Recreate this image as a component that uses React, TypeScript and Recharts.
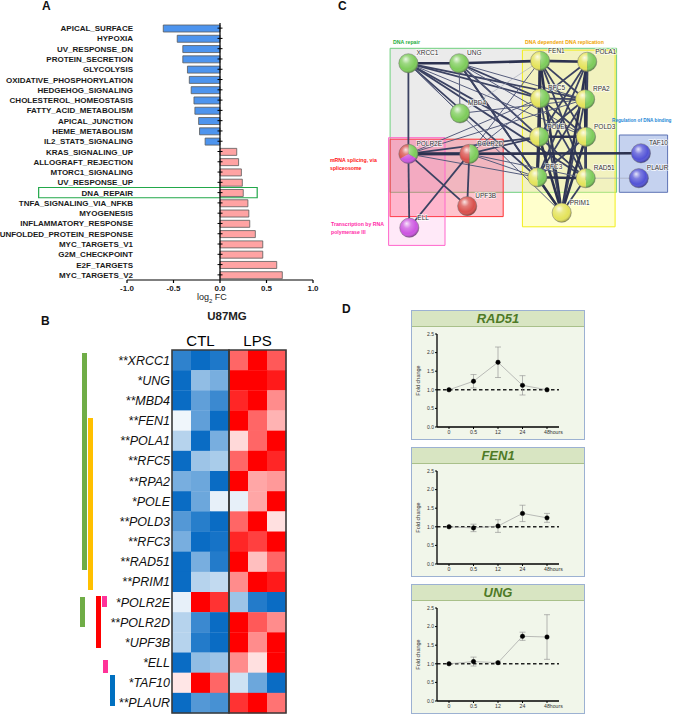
import React from "react";
import {
  Bar,
  Cell,
  ComposedChart,
  ErrorBar,
  Line,
  LineChart,
  ReferenceArea,
  ReferenceLine,
  Scatter,
  ScatterChart,
  XAxis,
  YAxis,
} from "recharts";

const FONT = "'Liberation Sans', Arial, sans-serif";

// ---------- A: hallmark gene sets, log2 FC
const pathways = [
  "APICAL_SURFACE",
  "HYPOXIA",
  "UV_RESPONSE_DN",
  "PROTEIN_SECRETION",
  "GLYCOLYSIS",
  "OXIDATIVE_PHOSPHORYLATION",
  "HEDGEHOG_SIGNALING",
  "CHOLESTEROL_HOMEOSTASIS",
  "FATTY_ACID_METABOLISM",
  "APICAL_JUNCTION",
  "HEME_METABOLISM",
  "IL2_STAT5_SIGNALING",
  "KRAS_SIGNALING_UP",
  "ALLOGRAFT_REJECTION",
  "MTORC1_SIGNALING",
  "UV_RESPONSE_UP",
  "DNA_REPAIR",
  "TNFA_SIGNALING_VIA_NFKB",
  "MYOGENESIS",
  "INFLAMMATORY_RESPONSE",
  "UNFOLDED_PROTEIN_RESPONSE",
  "MYC_TARGETS_V1",
  "G2M_CHECKPOINT",
  "E2F_TARGETS",
  "MYC_TARGETS_V2",
];
const log2fc = [
  -0.61, -0.46, -0.4, -0.4, -0.35, -0.33, -0.31, -0.28, -0.27, -0.23, -0.22, -0.16,
  0.18, 0.2, 0.23, 0.24, 0.25, 0.3, 0.31, 0.32, 0.38, 0.46, 0.46, 0.61, 0.67,
];
const fcTicks = [-1, -0.5, 0, 0.5, 1];
const highlighted = "DNA_REPAIR";

// ---------- B: heatmap U87MG
const genes = [
  "XRCC1", "UNG", "MBD4", "FEN1", "POLA1", "RFC5", "RPA2", "POLE", "POLD3",
  "RFC3", "RAD51", "PRIM1", "POLR2E", "POLR2D", "UPF3B", "ELL", "TAF10", "PLAUR",
];
const stars = [
  "**", "*", "**", "**", "**", "**", "**", "*", "**",
  "**", "**", "**", "*", "**", "*", "*", "*", "**",
];
const conditions = ["CTL", "LPS"];
// CTL1 CTL2 CTL3 LPS1 LPS2 LPS3 (row z-scores)
const zScores = [
  [-0.85, -1, -0.92, 0.6, 1, 0.65],
  [-1, -0.45, -0.55, 1, 1, 0.9],
  [-1, -0.65, -0.8, 0.85, 1, 0.45],
  [-0.06, -0.65, -1, 1, 0.6, 0.3],
  [-0.3, -1, -0.55, 0.15, 0.6, 1],
  [-1, -0.4, -0.35, 0.6, 1, 0.85],
  [-0.55, -0.6, -1, 1, 0.35, 0.4],
  [-1, -0.6, -0.1, -0.1, 0.35, 1],
  [-0.7, -0.88, -1, 0.6, 1, 0.12],
  [-0.55, -1, -0.95, 0.85, 0.75, 1],
  [-1, -0.55, -0.9, 1, 0.25, 0.6],
  [-1, -0.3, -0.25, 0.45, 1, 0.9],
  [-0.1, 1, 0.8, -0.4, -0.9, -1],
  [-0.3, -0.8, -1, 1, 0.65, 0.45],
  [-0.3, -0.9, -1, 1, 0.45, 1],
  [-1, -0.45, -0.4, 0.45, 0.12, 1],
  [0.1, 1, 0.6, -0.2, -0.6, -1],
  [-1, -0.7, -0.75, 0.8, 1, 0.55],
];

// ---------- C: STRING network
const termNames = {
  repair: "DNA repair",
  replication: "DNA dependent DNA replication",
  binding: "Regulation of DNA binding",
  splicing: "mRNA splicing, via spliceosome",
  transcription: "Transcription by RNA polymerase III",
};
const nodes = [
  { id: "XRCC1", x: 32.8, y: 11.1, terms: ["repair"] },
  { id: "UNG", x: 49.7, y: 11.1, terms: ["repair"] },
  { id: "FEN1", x: 76.7, y: 10.3, terms: ["repair", "replication"] },
  { id: "POLA1", x: 92.4, y: 10.6, terms: ["repair", "replication"] },
  { id: "RFC5", x: 76.7, y: 22.8, terms: ["repair", "replication"] },
  { id: "RPA2", x: 91.7, y: 23.1, terms: ["repair", "replication"] },
  { id: "MBD4", x: 50, y: 27.8, terms: ["repair"] },
  { id: "POLE", x: 76.4, y: 35.6, terms: ["repair", "replication"] },
  { id: "POLD3", x: 92, y: 35.6, terms: ["repair", "replication"] },
  { id: "POLR2E", x: 32.8, y: 41.3, terms: ["repair", "transcription", "splicing"] },
  { id: "POLR2D", x: 53.1, y: 41.3, terms: ["repair", "splicing"] },
  { id: "TAF10", x: 110.3, y: 41.1, terms: ["binding"] },
  { id: "RFC3", x: 75.8, y: 49.1, terms: ["repair", "replication"] },
  { id: "RAD51", x: 91.9, y: 49.4, terms: ["repair", "replication"] },
  { id: "PLAUR", x: 109.6, y: 49.4, terms: ["binding"] },
  { id: "UPF3B", x: 52.4, y: 58.7, terms: ["splicing"] },
  { id: "PRIM1", x: 83.9, y: 60.9, terms: ["replication"] },
  { id: "ELL", x: 33.1, y: 65.9, terms: ["transcription"] },
];
// [from, to, confidence 0..3]
const edges: [string, string, number][] = [
  ["XRCC1", "UNG", 3], ["XRCC1", "POLR2E", 2], ["XRCC1", "RFC5", 2], ["XRCC1", "RPA2", 2],
  ["XRCC1", "POLE", 2], ["XRCC1", "POLD3", 1], ["XRCC1", "RFC3", 2], ["XRCC1", "RAD51", 2],
  ["XRCC1", "PRIM1", 1], ["XRCC1", "MBD4", 1],
  ["UNG", "FEN1", 3], ["UNG", "MBD4", 1], ["UNG", "RFC5", 2], ["UNG", "RPA2", 1],
  ["UNG", "POLE", 2], ["UNG", "POLD3", 1], ["UNG", "RFC3", 2], ["UNG", "RAD51", 1], ["UNG", "PRIM1", 2],
  ["MBD4", "FEN1", 0], ["MBD4", "RPA2", 1],
  ["FEN1", "POLA1", 3], ["FEN1", "RFC5", 3], ["FEN1", "RPA2", 2], ["FEN1", "POLE", 3],
  ["FEN1", "POLD3", 2], ["FEN1", "RFC3", 3], ["FEN1", "RAD51", 2], ["FEN1", "PRIM1", 3],
  ["POLA1", "RFC5", 2], ["POLA1", "RPA2", 3], ["POLA1", "POLE", 2], ["POLA1", "POLD3", 3],
  ["POLA1", "RFC3", 2], ["POLA1", "RAD51", 2], ["POLA1", "PRIM1", 3],
  ["RFC5", "RPA2", 2], ["RFC5", "POLE", 3], ["RFC5", "POLD3", 2], ["RFC5", "RFC3", 3],
  ["RFC5", "RAD51", 2], ["RFC5", "PRIM1", 2], ["RFC5", "POLR2E", 1],
  ["RPA2", "POLE", 2], ["RPA2", "POLD3", 3], ["RPA2", "RFC3", 2], ["RPA2", "RAD51", 3], ["RPA2", "PRIM1", 2],
  ["POLE", "POLD3", 3], ["POLE", "RFC3", 3], ["POLE", "RAD51", 2], ["POLE", "PRIM1", 3],
  ["POLE", "POLR2E", 2], ["POLE", "POLR2D", 2],
  ["POLD3", "RFC3", 2], ["POLD3", "RAD51", 2], ["POLD3", "PRIM1", 3],
  ["RFC3", "RAD51", 3], ["RFC3", "PRIM1", 3], ["RFC3", "POLR2D", 1], ["RFC3", "POLR2E", 1],
  ["RAD51", "PRIM1", 2], ["RAD51", "PLAUR", 0],
  ["POLR2E", "POLR2D", 3], ["POLR2E", "TAF10", 3], ["POLR2E", "ELL", 2], ["POLR2E", "UPF3B", 2],
  ["POLR2E", "RPA2", 1],
  ["POLR2D", "UPF3B", 2], ["POLR2D", "ELL", 2], ["POLR2D", "FEN1", 1], ["POLR2D", "RFC5", 1],
  ["POLR2D", "RAD51", 1],
];
// term boxes in layout units
const termBoxes = [
  { term: "repair", x1: 26.7, x2: 102.2, y1: 6.1, y2: 54.1 },
  { term: "replication", x1: 70.8, x2: 101.7, y1: 6.7, y2: 65.6 },
  { term: "splicing", x1: 26.7, x2: 64.4, y1: 36.4, y2: 62.2 },
  { term: "transcription", x1: 26.2, x2: 45, y1: 35.9, y2: 71.8 },
  { term: "binding", x1: 103.1, x2: 119.2, y1: 35, y2: 54.1 },
];

// ---------- D: qPCR time course
const hours = ["0", "0.5", "12", "24", "48"];
const rad51Fc = [1.0, 1.23, 1.74, 1.12, 1.0];
const rad51Sd = [0, 0.18, 0.41, 0.26, 0];
const fen1Fc = [1.0, 0.97, 1.02, 1.36, 1.24];
const fen1Sd = [0, 0.1, 0.17, 0.22, 0.12];
const ungFc = [1.0, 1.06, 1.03, 1.74, 1.72];
const ungSd = [0, 0.12, 0.02, 0.11, 0.6];
const foldTicks = [0, 0.5, 1, 1.5, 2, 2.5];

// ---------- styles
const termStyle: Record<string, { fill: string; op: number; stroke: string; node: string; text: string }> = {
  repair: { fill: "#e9e9e9", op: 0.9, stroke: "#6fd07e", node: "#7dcc5a", text: "#1fae3c" },
  replication: { fill: "#ffff7a", op: 0.38, stroke: "#f2ee1a", node: "#e4e35a", text: "#f0a400" },
  splicing: { fill: "#ff3d5a", op: 0.3, stroke: "#ff3333", node: "#d9504c", text: "#ff1414" },
  transcription: { fill: "#ff6ad0", op: 0.15, stroke: "#ff66cc", node: "#cc55e0", text: "#ff2aa8" },
  binding: { fill: "#7f9bdb", op: 0.45, stroke: "#5d72b4", node: "#5252d6", text: "#2486d6" },
};
const edgeStyle = [
  { w: 0.6, c: "#a0a4b4" },
  { w: 1.0, c: "#555c7c" },
  { w: 1.8, c: "#3b4262" },
  { w: 2.6, c: "#2c3250" },
];

const hallmarkData = pathways.map((name, i) => ({ name, fc: log2fc[i], zero: 0 }));

function PathwayTick(props: any) {
  const { x, y, payload } = props;
  return (
    <text x={x + 6} y={y} dy={3} textAnchor="end" fontSize={8} fontWeight={700} fill="#1a1a1a" fontFamily={FONT}>
      {payload.value}
    </text>
  );
}

function HallmarkChart() {
  return (
    <div style={{ position: "absolute", left: 0, top: 0 }}>
      <ComposedChart
        layout="vertical"
        width={330}
        height={305}
        data={hallmarkData}
        margin={{ top: 23, right: 17, bottom: 5, left: 0 }}
      >
        <XAxis
          type="number"
          domain={[-1, 1]}
          ticks={fcTicks}
          tickFormatter={(v: number) => v.toFixed(1)}
          height={20}
          tickSize={3}
          tickMargin={2}
          axisLine={{ stroke: "#000", strokeWidth: 1.2 }}
          tickLine={{ stroke: "#000", strokeWidth: 1.2 }}
          tick={{ fontSize: 8, fontWeight: 700, fill: "#1a1a1a", fontFamily: FONT }}
        />
        <YAxis
          type="category"
          dataKey="name"
          width={127}
          interval={0}
          axisLine={false}
          tickLine={false}
          tickSize={0}
          tickMargin={0}
          tick={<PathwayTick />}
        />
        <ReferenceArea
          x1={-1.95}
          x2={0.4}
          y1={highlighted}
          y2={highlighted}
          ifOverflow="visible"
          fill="none"
          fillOpacity={0}
          stroke="#22a84a"
          strokeWidth={1.2}
        />
        <ReferenceLine x={0} stroke="#000" strokeWidth={1.2} />
        <Bar dataKey="fc" barSize={7} stroke="#5a5a5a" strokeWidth={0.8} isAnimationActive={false}>
          {hallmarkData.map((d) => (
            <Cell key={d.name} fill={d.fc < 0 ? "#4d94ee" : "#ffa3a3"} />
          ))}
        </Bar>
        <Scatter
          dataKey="zero"
          isAnimationActive={false}
          shape={(p: any) => (
            <line x1={p.cx - 2.5} x2={p.cx + 2.5} y1={p.cy} y2={p.cy} stroke="#000" strokeWidth={1} />
          )}
        />
      </ComposedChart>
      <div
        style={{
          position: "absolute",
          left: 197,
          top: 292,
          fontSize: 9,
          color: "#222",
          fontFamily: FONT,
          whiteSpace: "nowrap",
        }}
      >
        log<sub style={{ fontSize: 6 }}>2</sub> FC
      </div>
    </div>
  );
}

// ---------- B
const HM = { w: 300, h: 416, top: 30, right: 14, bottom: 3, left: 172, axisTop: 20 };
const plotW = HM.w - HM.left - HM.right;
const plotH = HM.h - HM.top - HM.axisTop - HM.bottom;
const cellW = plotW / 6;
const cellH = plotH / genes.length;

function heat(v: number) {
  const t = Math.min(1, Math.abs(v));
  if (v < 0) {
    return `rgb(${Math.round(255 - t * 245)},${Math.round(255 - t * 147)},${Math.round(255 - t * 59)})`;
  }
  return `rgb(255,${Math.round(255 - t * 255)},${Math.round(255 - t * 255)})`;
}

const heatCells = zScores.flatMap((row, r) => row.map((v, c) => ({ col: c, row: r, v })));
const rowTicks = genes.map((_, i) => i);

function GeneTick(props: any) {
  const { x, y, payload } = props;
  const i = payload.value as number;
  return (
    <text x={x} y={y} dy={4.5} textAnchor="end" fontSize={12.5} fontStyle="italic" fill="#111" fontFamily={FONT}>
      {stars[i] + genes[i]}
    </text>
  );
}

const rowGroups = [
  { from: 0, to: 10, left: 82, color: "#70ad47", inset: [3, 2] },
  { from: 3, to: 11, left: 88, color: "#ffc000", inset: [7, 2] },
  { from: 12, to: 13, left: 80, color: "#70ad47", inset: [5, 5] },
  { from: 12, to: 14, left: 96, color: "#ff0000", inset: [4, 5] },
  { from: 12, to: 12, left: 102, color: "#ff3399", inset: [4, 5] },
  { from: 15, to: 15, left: 103, color: "#ff3399", inset: [7, 0] },
  { from: 16, to: 17, left: 110, color: "#0070c0", inset: [2, 7] },
];

function Heatmap() {
  const plotTop = 300 + HM.top + HM.axisTop;
  return (
    <div style={{ position: "absolute", left: 0, top: 300 }}>
      <ScatterChart
        width={HM.w}
        height={HM.h}
        margin={{ top: HM.top, right: HM.right, bottom: HM.bottom, left: 0 }}
      >
        <XAxis
          xAxisId={0}
          orientation="top"
          type="number"
          dataKey="col"
          domain={[-0.5, 5.5]}
          ticks={[1, 4]}
          tickFormatter={(v: number) => conditions[Math.floor(v / 3)]}
          height={HM.axisTop}
          axisLine={false}
          tickLine={false}
          tickSize={0}
          tickMargin={4}
          tick={{ fontSize: 15, fill: "#000", fontFamily: FONT }}
        />
        <YAxis
          type="number"
          dataKey="row"
          domain={[-0.5, genes.length - 0.5]}
          reversed
          ticks={rowTicks}
          interval={0}
          width={HM.left}
          axisLine={false}
          tickLine={false}
          tickSize={0}
          tickMargin={2}
          tick={<GeneTick />}
        />
        <Scatter
          data={heatCells}
          isAnimationActive={false}
          shape={(p: any) => (
            <rect
              x={p.cx - cellW / 2}
              y={p.cy - cellH / 2}
              width={cellW + 0.3}
              height={cellH + 0.3}
              fill={heat(p.payload.v)}
            />
          )}
        />
        <ReferenceArea
          x1={-0.5}
          x2={2.5}
          y1={-0.5}
          y2={genes.length - 0.5}
          fill="none"
          fillOpacity={0}
          stroke="#3a3a3a"
          strokeWidth={1.6}
          zIndex={900}
        />
        <ReferenceArea
          x1={2.5}
          x2={5.5}
          y1={-0.5}
          y2={genes.length - 0.5}
          fill="none"
          fillOpacity={0}
          stroke="#3a3a3a"
          strokeWidth={1.6}
          zIndex={900}
        />
      </ScatterChart>
      {rowGroups.map((g, i) => (
        <div
          key={i}
          style={{
            position: "absolute",
            left: g.left,
            top: plotTop - 300 + g.from * cellH + g.inset[0],
            width: 5,
            height: (g.to - g.from + 1) * cellH - g.inset[0] - g.inset[1],
            background: g.color,
          }}
        />
      ))}
    </div>
  );
}

// ---------- C
const C_UNIT = 3;
const C_W = 366;
const C_H = 230;

function wedge(cx: number, cy: number, r: number, a0: number, a1: number) {
  const pt = (a: number) => [cx + r * Math.sin((a * Math.PI) / 180), cy - r * Math.cos((a * Math.PI) / 180)];
  const [x0, y0] = pt(a0);
  const [x1, y1] = pt(a1);
  const large = a1 - a0 > 180 ? 1 : 0;
  return `M${cx},${cy} L${x0},${y0} A${r},${r} 0 ${large} 1 ${x1},${y1} Z`;
}

const NODE_R = 9.6;

function NodeShape(props: any) {
  const { cx, cy, payload } = props;
  const cols = (payload.terms as string[]).map((t) => termStyle[t].node);
  const step = 360 / cols.length;
  return (
    <g>
      {cols.length === 1 ? (
        <circle cx={cx} cy={cy} r={NODE_R} fill={cols[0]} />
      ) : (
        cols.map((c, i) => <path key={i} d={wedge(cx, cy, NODE_R, i * step, (i + 1) * step)} fill={c} />)
      )}
      <circle cx={cx} cy={cy} r={NODE_R} fill="url(#sphereShade)" stroke="#707070" strokeWidth={0.5} />
      <text
        x={cx + 8}
        y={cy - 8}
        fontSize={6.5}
        fill="#333"
        fontFamily={FONT}
        stroke="#ffffff"
        strokeOpacity={0.75}
        strokeWidth={1.5}
        paintOrder="stroke"
      >
        {payload.id}
      </text>
    </g>
  );
}

const nodeById: Record<string, { x: number; y: number }> = Object.fromEntries(nodes.map((n) => [n.id, n]));
const edgeSeries = edges.map(([a, b, w]) => ({
  key: `${a}-${b}`,
  w,
  points: [
    { x: nodeById[a].x, y: nodeById[a].y },
    { x: nodeById[b].x, y: nodeById[b].y },
  ],
}));

function Network() {
  return (
    <div style={{ position: "absolute", left: 310, top: 30 }}>
      <ScatterChart width={C_W} height={C_H} margin={{ top: 0, right: 0, bottom: 0, left: 0 }}>
        <defs>
          <radialGradient id="sphereShade" cx="0.42" cy="0.38" r="0.62" fx="0.36" fy="0.28">
            <stop offset="0" stopColor="#ffffff" stopOpacity={0.85} />
            <stop offset="0.35" stopColor="#ffffff" stopOpacity={0.25} />
            <stop offset="0.75" stopColor="#ffffff" stopOpacity={0} />
            <stop offset="1" stopColor="#000000" stopOpacity={0.3} />
          </radialGradient>
        </defs>
        <XAxis type="number" dataKey="x" domain={[0, C_W / C_UNIT]} hide />
        <YAxis type="number" dataKey="y" domain={[0, C_H / C_UNIT]} reversed hide />
        {termBoxes.map((b) => (
          <ReferenceArea
            key={b.term}
            x1={b.x1}
            x2={b.x2}
            y1={b.y1}
            y2={b.y2}
            fill={termStyle[b.term].fill}
            fillOpacity={termStyle[b.term].op}
            stroke={termStyle[b.term].stroke}
            strokeWidth={1}
          />
        ))}
        {edgeSeries.map((e) => (
          <Scatter
            key={e.key}
            data={e.points}
            isAnimationActive={false}
            line={{ stroke: edgeStyle[e.w].c, strokeWidth: edgeStyle[e.w].w }}
            shape={() => <g />}
          />
        ))}
        <Scatter data={nodes} isAnimationActive={false} shape={<NodeShape />} />
      </ScatterChart>
    </div>
  );
}

const captionStyle: React.CSSProperties = {
  position: "absolute",
  fontSize: 5.2,
  fontWeight: 700,
  fontFamily: FONT,
  lineHeight: "7.5px",
  whiteSpace: "nowrap",
};

function NetworkCaptions() {
  return (
    <>
      <div style={{ ...captionStyle, left: 393, top: 39, color: termStyle.repair.text }}>{termNames.repair}</div>
      <div style={{ ...captionStyle, left: 525, top: 39, color: termStyle.replication.text }}>
        {termNames.replication}
      </div>
      <div style={{ ...captionStyle, left: 612, top: 117, fontSize: 4.7, color: termStyle.binding.text }}>
        {termNames.binding}
      </div>
      <div style={{ ...captionStyle, left: 330, top: 157, color: termStyle.splicing.text }}>
        mRNA splicing, via
        <br />
        spliceosome
      </div>
      <div style={{ ...captionStyle, left: 331, top: 221, color: termStyle.transcription.text }}>
        Transcription by RNA
        <br />
        polymerase III
      </div>
    </>
  );
}

// ---------- D
function HourTick(props: any) {
  const { x, y, payload } = props;
  const last = payload.value === hours[hours.length - 1];
  return (
    <text
      x={last ? x - 3 : x}
      y={y + 5}
      textAnchor={last ? "start" : "middle"}
      fontSize={5.2}
      fill="#333"
      fontFamily={FONT}
    >
      {last ? `${payload.value}hours` : payload.value}
    </text>
  );
}

function FoldLabel(props: any) {
  const { viewBox } = props;
  const x = viewBox.x + 8;
  const y = viewBox.y + viewBox.height / 2;
  return (
    <text x={x} y={y} transform={`rotate(-90, ${x}, ${y})`} textAnchor="middle" fontSize={5.5} fill="#333" fontFamily={FONT}>
      Fold change
    </text>
  );
}

function TimeCourse({ title, fc, sd, top }: { title: string; fc: number[]; sd: number[]; top: number }) {
  const data = hours.map((t, i) => ({ t, fc: fc[i], sd: sd[i] }));
  return (
    <div
      style={{
        position: "absolute",
        left: 411,
        top,
        width: 172,
        border: "1px solid #9cb1d2",
        background: "#f1f6ea",
      }}
    >
      <div
        style={{
          height: 15,
          background: "#d8e5c2",
          borderBottom: "1px solid #a9c08a",
          textAlign: "center",
          fontSize: 13,
          lineHeight: "15px",
          fontWeight: 700,
          fontStyle: "italic",
          color: "#4e7a27",
          fontFamily: FONT,
        }}
      >
        {title}
      </div>
      <LineChart width={170} height={112} data={data} margin={{ top: 7, right: 23, bottom: 2, left: 0 }}>
        <XAxis
          dataKey="t"
          padding={{ left: 12, right: 12 }}
          height={10}
          tickSize={2}
          tickMargin={0}
          axisLine={{ stroke: "#000", strokeWidth: 1.3 }}
          tickLine={{ stroke: "#000" }}
          tick={<HourTick />}
          interval={0}
        />
        <YAxis
          type="number"
          domain={[0, 2.5]}
          ticks={foldTicks}
          tickFormatter={(v: number) => v.toFixed(1)}
          width={25}
          tickSize={2}
          tickMargin={1}
          axisLine={{ stroke: "#000", strokeWidth: 1.3 }}
          tickLine={{ stroke: "#000" }}
          tick={{ fontSize: 5, fill: "#333", fontFamily: FONT }}
          label={<FoldLabel />}
        />
        <ReferenceLine y={1} stroke="#222" strokeWidth={1.6} strokeDasharray="3.5 2.5" />
        <Line
          dataKey="fc"
          stroke="#a0a0a0"
          strokeWidth={0.7}
          dot={{ r: 2.2, fill: "#000", stroke: "#000", strokeWidth: 0.5 }}
          isAnimationActive={false}
        >
          <ErrorBar dataKey="sd" width={3} stroke="#8c8c8c" strokeWidth={0.6} direction="y" />
        </Line>
      </LineChart>
    </div>
  );
}

const letterStyle: React.CSSProperties = {
  position: "absolute",
  fontSize: 12,
  fontWeight: 700,
  fontFamily: FONT,
  color: "#111",
};

export default function App() {
  return (
    <div
      style={{
        position: "absolute",
        left: 0,
        top: 0,
        width: 676,
        height: 716,
        background: "#fff",
        overflow: "hidden",
        fontFamily: FONT,
      }}
    >
      <HallmarkChart />
      <Heatmap />
      <Network />
      <NetworkCaptions />
      <div style={{ ...letterStyle, left: 42, top: -1 }}>A</div>
      <div style={{ ...letterStyle, left: 41, top: 314 }}>B</div>
      <div style={{ ...letterStyle, left: 338, top: -1 }}>C</div>
      <div style={{ ...letterStyle, left: 342, top: 302 }}>D</div>
      <div
        style={{
          position: "absolute",
          left: 187,
          top: 310,
          width: 80,
          textAlign: "center",
          fontSize: 11.5,
          fontWeight: 700,
          fontFamily: FONT,
          color: "#222",
        }}
      >
        U87MG
      </div>
      <TimeCourse title="RAD51" fc={rad51Fc} sd={rad51Sd} top={310} />
      <TimeCourse title="FEN1" fc={fen1Fc} sd={fen1Sd} top={447} />
      <TimeCourse title="UNG" fc={ungFc} sd={ungSd} top={584} />
    </div>
  );
}
